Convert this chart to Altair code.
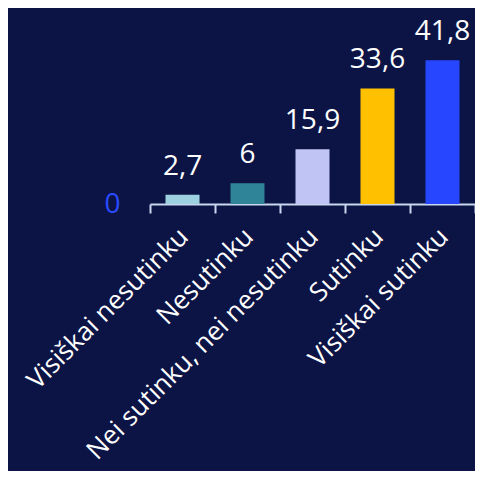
import altair as alt
import pandas as pd

categories = ["Visiškai nesutinku", "Nesutinku", "Nei sutinku, nei nesutinku", "Sutinku", "Visiškai sutinku"]
values = [2.7, 6, 15.9, 33.6, 41.8]
colors = ["#9dd1e0", "#2f8597", "#c0c4f5", "#ffc000", "#2646ff"]

df = pd.DataFrame({
    "cat": categories,
    "val": values,
    "lab": [f"{v:g}".replace(".", ",") for v in values],
})

FONT = "Open Sans"

x = alt.X(
    "cat:N",
    sort=categories,
    scale=alt.Scale(paddingInner=0, paddingOuter=0),
    axis=alt.Axis(
        title=None,
        labelAngle=-45,
        labelColor="white",
        labelFont=FONT,
        labelFontSize=26,
        labelLimit=500,
        labelPadding=10,
        labelOffset=-8,
        domainColor="#c8d6f0",
        domainWidth=2,
        tickColor="#c8d6f0",
        tickWidth=2,
        tickSize=9,
        tickBand="extent",
        grid=False,
    ),
)
y = alt.Y(
    "val:Q",
    scale=alt.Scale(domain=[0, 50]),
    axis=alt.Axis(
        title=None,
        values=[0],
        labelColor="#2a4bff",
        labelFont=FONT,
        labelFontSize=28,
        labelPadding=30,
        domain=False,
        ticks=False,
        grid=False,
    ),
)

base = alt.Chart(df)
bars = base.mark_bar(size=34).encode(
    x=x,
    y=y,
    color=alt.Color("cat:N", scale=alt.Scale(domain=categories, range=colors), legend=None),
)
text = base.mark_text(dy=-20, baseline="alphabetic", color="white", font=FONT, fontSize=28).encode(
    x=alt.X("cat:N", sort=categories),
    y=alt.Y("val:Q"),
    text="lab:N",
)

chart = (
    alt.layer(bars, text)
    .properties(
        width=325,
        height=172,
        background="#0c1445",
        padding={"left": 142, "top": 24, "right": 0, "bottom": 267},
        autosize=alt.AutoSizeParams(type="none"),
    )
    .configure_view(stroke=None)
)

chart.save("out.html", embed_options={"renderer": "svg", "actions": False})
